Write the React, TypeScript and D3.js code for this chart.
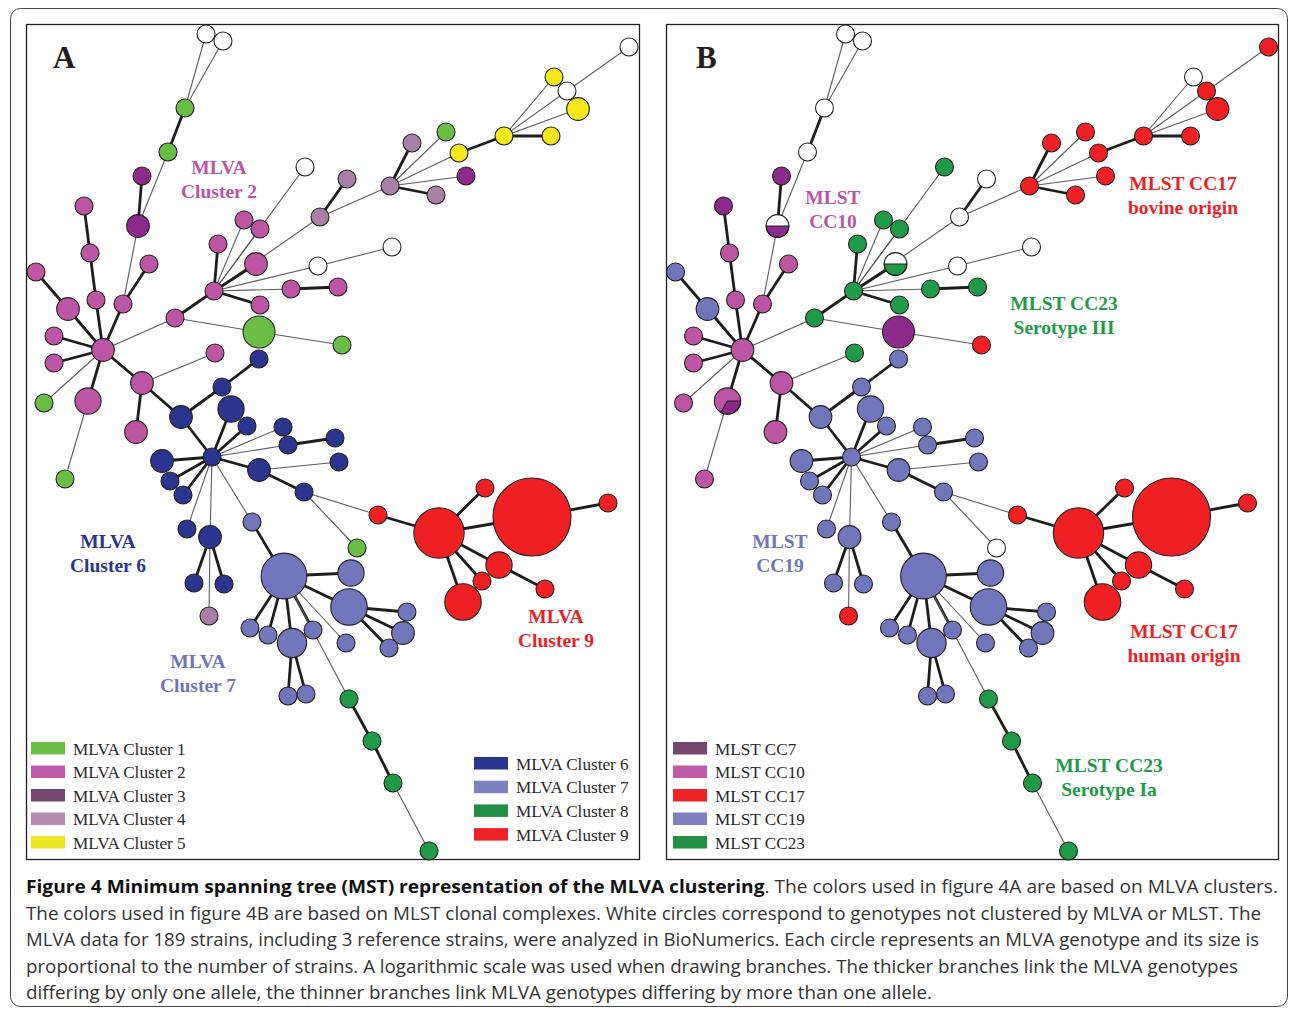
import React from "react";
import * as d3 from "d3";

// ---------- DATA ----------
// nodes: [id, x, y, strains, MLVA cluster (panel A), MLST complex (panel B)] ; x,y in tree layout units
const NODES: [number, number, number, number, string, string][] = [
  [1, 206, 34, 1, "none", "none"], [2, 223, 41, 1, "none", "none"],
  [3, 185, 108, 1, "c1", "none"], [4, 168, 152, 1, "c1", "none"],
  [5, 142, 176, 1, "c3", "cc7"], [6, 138, 226, 2, "c3", "cc7"],
  [7, 84, 206, 1, "c2", "cc7"], [8, 90, 253, 1, "c2", "cc10"],
  [9, 36, 272, 1, "c2", "cc19"], [10, 149, 264, 1, "c2", "cc10"],
  [11, 96, 300, 1, "c2", "cc10"], [12, 123, 304, 1, "c2", "cc10"],
  [13, 68, 309, 2, "c2", "cc19"], [14, 54, 336, 1, "c2", "cc10"],
  [15, 54, 363, 1, "c2", "cc10"], [16, 103, 350, 2, "c2", "cc10"],
  [17, 44, 403, 1, "c1", "cc10"], [18, 88, 401, 3, "c2", "cc10"],
  [19, 142, 383, 2, "c2", "cc10"], [20, 215, 353, 1, "c2", "cc23"],
  [21, 136, 432, 2, "c2", "cc10"], [22, 175, 318, 1, "c2", "cc23"],
  [23, 214, 291, 1, "c2", "cc23"], [24, 218, 244, 1, "c2", "cc23"],
  [25, 244, 220, 1, "c2", "cc23"], [26, 260, 229, 1, "c2", "cc23"],
  [27, 256, 264, 2, "c2", "cc23"], [28, 260, 305, 1, "c2", "cc23"],
  [29, 259, 332, 5, "c1", "cc7"], [30, 305, 167, 1, "none", "cc23"],
  [31, 320, 217, 1, "c4", "none"], [32, 318, 266, 1, "none", "none"],
  [33, 291, 289, 1, "c2", "cc23"], [34, 338, 287, 1, "c2", "cc23"],
  [35, 342, 345, 1, "c1", "cc17"], [36, 259, 359, 1, "c6", "cc19"],
  [37, 222, 387, 1, "c6", "cc19"], [38, 231, 409, 3, "c6", "cc19"],
  [39, 181, 417, 2, "c6", "cc19"], [40, 247, 426, 1, "c6", "cc19"],
  [41, 283, 427, 1, "c6", "cc19"], [42, 288, 445, 1, "c6", "cc19"],
  [43, 335, 438, 1, "c6", "cc19"], [44, 339, 462, 1, "c6", "cc19"],
  [45, 212, 457, 1, "c6", "cc19"], [46, 162, 461, 2, "c6", "cc19"],
  [47, 170, 481, 1, "c6", "cc19"], [48, 183, 495, 1, "c6", "cc19"],
  [49, 259, 470, 2, "c6", "cc19"], [50, 304, 492, 1, "c6", "cc19"],
  [51, 187, 529, 1, "c6", "cc19"], [52, 210, 537, 2, "c6", "cc19"],
  [53, 194, 583, 1, "c6", "cc19"], [54, 224, 584, 1, "c6", "cc19"],
  [55, 209, 616, 1, "c4", "cc17"], [56, 252, 522, 1, "c7", "cc19"],
  [57, 284, 576, 12, "c7", "cc19"], [58, 250, 628, 1, "c7", "cc19"],
  [59, 268, 635, 1, "c7", "cc19"], [60, 292, 643, 4, "c7", "cc19"],
  [61, 313, 630, 1, "c7", "cc19"], [62, 288, 696, 1, "c7", "cc19"],
  [63, 306, 694, 1, "c7", "cc19"], [64, 351, 573, 3, "c7", "cc19"],
  [65, 349, 607, 7, "c7", "cc19"], [66, 407, 612, 1, "c7", "cc19"],
  [67, 403, 633, 2, "c7", "cc19"], [68, 389, 648, 1, "c7", "cc19"],
  [69, 346, 643, 1, "c7", "cc19"], [70, 378, 515, 1, "c9", "cc17"],
  [71, 357, 548, 1, "c1", "none"], [72, 439, 533, 15, "c9", "cc17"],
  [73, 485, 488, 1, "c9", "cc17"], [74, 532, 517, 40, "c9", "cc17"],
  [75, 608, 503, 1, "c9", "cc17"], [76, 499, 565, 3, "c9", "cc17"],
  [77, 482, 581, 1, "c9", "cc17"], [78, 463, 602, 7, "c9", "cc17"],
  [79, 545, 589, 1, "c9", "cc17"], [80, 349, 699, 1, "c8", "cc23"],
  [81, 372, 741, 1, "c8", "cc23"], [82, 393, 783, 1, "c8", "cc23"],
  [83, 429, 851, 1, "c8", "cc23"], [84, 629, 47, 1, "none", "cc17"],
  [85, 554, 77, 1, "c5", "none"], [86, 567, 91, 1, "none", "cc17"],
  [87, 578, 109, 2, "c5", "cc17"], [88, 504, 136, 1, "c5", "cc17"],
  [89, 551, 136, 1, "c5", "cc17"], [90, 459, 153, 1, "c5", "cc17"],
  [91, 446, 132, 1, "c1", "cc17"], [92, 412, 143, 1, "c4", "cc17"],
  [93, 390, 186, 1, "c4", "cc17"], [94, 466, 176, 1, "c3", "cc17"],
  [95, 436, 195, 1, "c4", "cc17"], [96, 347, 179, 1, "c4", "none"],
  [97, 392, 247, 1, "none", "none"], [98, 65, 479, 1, "c1", "cc10"],
];

// mixed genotypes in panel B: [id, second complex, share kind]
const MIXED_B: [number, string, string][] = [
  [6, "cc7", "half"],
  [27, "cc23", "half"],
  [18, "cc7", "third"],
];
const MIXED_B_BASE: Record<number, string> = { 6: "none", 27: "none", 18: "cc10" };

// edges: [from, to, singleLocusVariant (1 = thick)]
const EDGES: [number, number, number][] = [
  [3, 1, 0], [3, 2, 0], [3, 4, 1], [4, 6, 0], [5, 6, 1], [6, 12, 0],
  [16, 12, 1], [12, 10, 1], [16, 11, 1], [11, 8, 1], [8, 7, 1], [16, 13, 1],
  [13, 9, 1], [16, 14, 1], [16, 15, 1], [16, 17, 0], [16, 18, 1], [18, 98, 0],
  [16, 19, 1], [16, 22, 0], [19, 20, 0], [19, 21, 1], [19, 39, 1],
  [22, 23, 1], [22, 29, 0], [29, 35, 0],
  [23, 24, 1], [23, 25, 0], [23, 26, 0], [23, 30, 0], [23, 31, 0], [23, 27, 1],
  [23, 32, 0], [23, 33, 0], [23, 28, 1], [33, 34, 1], [31, 96, 1], [31, 93, 0],
  [32, 97, 0], [93, 92, 1], [93, 91, 0], [93, 90, 0], [93, 94, 0], [93, 95, 1],
  [90, 88, 1], [88, 85, 0], [88, 86, 0], [88, 87, 0], [88, 89, 1], [86, 84, 0],
  [39, 37, 1], [37, 36, 1], [39, 45, 1],
  [45, 38, 1], [45, 40, 1], [45, 41, 0], [45, 42, 0], [42, 43, 1], [45, 46, 1],
  [45, 47, 1], [45, 48, 1], [45, 49, 1], [49, 44, 0], [49, 50, 1], [50, 70, 0],
  [50, 71, 0], [45, 51, 0], [45, 52, 0], [52, 53, 1], [52, 54, 1], [52, 55, 0],
  [45, 56, 0], [56, 57, 1],
  [57, 64, 1], [57, 65, 1], [57, 58, 1], [57, 59, 1], [57, 60, 1], [57, 61, 1],
  [57, 69, 0], [57, 80, 0], [60, 62, 1], [60, 63, 1], [65, 66, 1], [65, 67, 1],
  [65, 68, 1], [80, 81, 1], [81, 82, 1], [82, 83, 0],
  [70, 72, 1], [72, 73, 1], [72, 74, 1], [74, 75, 1], [72, 76, 1], [76, 79, 1],
  [72, 77, 1], [72, 78, 1],
];

const LEGEND_A_LEFT = ["MLVA Cluster 1", "MLVA Cluster 2", "MLVA Cluster 3", "MLVA Cluster 4", "MLVA Cluster 5"];
const LEGEND_A_LEFT_KEYS = ["c1", "c2", "c3", "c4", "c5"];
const LEGEND_A_RIGHT = ["MLVA Cluster 6", "MLVA Cluster 7", "MLVA Cluster 8", "MLVA Cluster 9"];
const LEGEND_A_RIGHT_KEYS = ["c6", "c7", "c8", "c9"];
const LEGEND_B = ["MLST CC7", "MLST CC10", "MLST CC17", "MLST CC19", "MLST CC23"];
const LEGEND_B_KEYS = ["cc7", "cc10", "cc17", "cc19", "cc23"];

const LABELS_A: [string[], string][] = [
  [["MLVA", "Cluster 2"], "c2"],
  [["MLVA", "Cluster 6"], "c6"],
  [["MLVA", "Cluster 7"], "c7"],
  [["MLVA", "Cluster 9"], "c9"],
];
const LABELS_B: [string[], string][] = [
  [["MLST", "CC10"], "cc10"],
  [["MLST CC17", "bovine origin"], "cc17"],
  [["MLST CC23", "Serotype III"], "cc23"],
  [["MLST", "CC19"], "cc19"],
  [["MLST CC17", "human origin"], "cc17"],
  [["MLST CC23", "Serotype Ia"], "cc23"],
];

const CAPTION_BOLD = "Figure 4 Minimum spanning tree (MST) representation of the MLVA clustering";
const CAPTION_LINES = [
  ". The colors used in figure 4A are based on MLVA clusters.",
  "The colors used in figure 4B are based on MLST clonal complexes. White circles correspond to genotypes not clustered by MLVA or MLST. The",
  "MLVA data for 189 strains, including 3 reference strains, were analyzed in BioNumerics. Each circle represents an MLVA genotype and its size is",
  "proportional to the number of strains. A logarithmic scale was used when drawing branches. The thicker branches link the MLVA genotypes",
  "differing by only one allele, the thinner branches link MLVA genotypes differing by more than one allele.",
];

// ---------- STYLE / LAYOUT ----------
const NODE_FILL: Record<string, string> = {
  none: "#ffffff",
  c1: "#6abd45", c2: "#bc55a3", c3: "#8b2a8a", c4: "#a680a5", c5: "#f2e81b",
  c6: "#2b3590", c7: "#7076b9", c8: "#1e9a48", c9: "#ee2024",
  cc7: "#8b2a8a", cc10: "#bc55a3", cc17: "#ee2024", cc19: "#7076b9", cc23: "#1e9a48",
};
const SWATCH_FILL: Record<string, string> = {
  c1: "#6cbe45", c2: "#be5aa8", c3: "#77466f", c4: "#b58bb3", c5: "#ede626",
  c6: "#2a3590", c7: "#7f80c0", c8: "#238e45", c9: "#ee2124",
  cc7: "#77466f", cc10: "#be5aa8", cc17: "#ee2124", cc19: "#7f80c0", cc23: "#238e45",
};
const LABEL_FILL: Record<string, string> = {
  c2: "#bc55a3", c6: "#2b3590", c7: "#7076b9", c9: "#ee2024",
  cc10: "#bc55a3", cc17: "#ee2024", cc19: "#7076b9", cc23: "#1e9a48",
};
const LABEL_POS_A = [[219, 174], [108, 548], [198, 668], [556, 623]];
const LABEL_POS_B = [[833, 204], [1183, 190], [1064, 310], [780, 548], [1184, 638], [1109, 772]];

const SERIF = "'Liberation Serif', 'Times New Roman', serif";
const SANS = "'Open Sans', 'Noto Sans', sans-serif";

const yScale = d3.scaleLinear().domain([24, 860]).range([24, 860]);
const xScaleA = d3.scaleLinear().domain([26, 640]).range([26, 640]);
const xScaleB = d3.scaleLinear().domain([26, 640]).range([665.5, 1279.5]);
const rScale = d3.scalePow().exponent(0.5).domain([1, 40]).range([9, 39]);
const arcGen = d3.arc();

const nodeById = new Map(NODES.map((n) => [n[0], n]));

function Tree({ panel }: { panel: "A" | "B" }) {
  const x = panel === "A" ? xScaleA : xScaleB;
  const mixed = new Map(MIXED_B.map((m) => [m[0], m]));
  return (
    <g>
      {EDGES.map(([s, t, thick], i) => {
        const a = nodeById.get(s)!;
        const b = nodeById.get(t)!;
        return (
          <line
            key={i}
            x1={x(a[1])} y1={yScale(a[2])} x2={x(b[1])} y2={yScale(b[2])}
            stroke={thick ? "#1d1d1b" : "#5c5c5c"}
            strokeWidth={thick ? 2.8 : 1.1}
          />
        );
      })}
      {NODES.map(([id, nx, ny, n, ca, cb]) => {
        const cx = x(nx);
        const cy = yScale(ny);
        const r = rScale(n);
        const m = panel === "B" ? mixed.get(id) : undefined;
        if (m) {
          const base = MIXED_B_BASE[id];
          const [sa, ea] = m[2] === "half" ? [Math.PI / 2, (3 * Math.PI) / 2] : [Math.PI / 2, (7 * Math.PI) / 6];
          const path = arcGen({ innerRadius: 0, outerRadius: r, startAngle: sa, endAngle: ea } as any) as string;
          return (
            <g key={id} transform={`translate(${cx},${cy})`}>
              <circle r={r} fill={NODE_FILL[base]} />
              <path d={path} fill={NODE_FILL[m[1]]} stroke="#231f20" strokeWidth={1.1} />
              <circle r={r} fill="none" stroke="#231f20" strokeWidth={1.1} />
            </g>
          );
        }
        return (
          <circle key={id} cx={cx} cy={cy} r={r}
            fill={NODE_FILL[panel === "A" ? ca : cb]} stroke="#231f20" strokeWidth={1.1} />
        );
      })}
    </g>
  );
}

function Legend({ items, keys, x0, y0, step }: { items: string[]; keys: string[]; x0: number; y0: number; step: number }) {
  return (
    <g>
      {items.map((t, i) => (
        <g key={t}>
          <rect x={x0} y={y0 + i * step} width={34} height={12.5} fill={SWATCH_FILL[keys[i]]} />
          <text x={x0 + 42} y={y0 + i * step + 12.5} fontFamily={SERIF} fontSize={17.2} fill="#2a2a2a">{t}</text>
        </g>
      ))}
    </g>
  );
}

function Labels({ labels, pos }: { labels: [string[], string][]; pos: number[][] }) {
  return (
    <g>
      {labels.map(([lines, key], i) => (
        <text key={i} x={pos[i][0]} y={pos[i][1]} textAnchor="middle" fontFamily={SERIF}
          fontWeight="bold" fontSize={19.5} fill={LABEL_FILL[key]}>
          {lines.map((l, j) => (
            <tspan key={j} x={pos[i][0]} dy={j === 0 ? 0 : 24}>{l}</tspan>
          ))}
        </text>
      ))}
    </g>
  );
}

const CAPTION_WIDTHS = [1252, 1235, 1233, 1212, 906];
const CAPTION_BASE = [893, 919.5, 946, 972.5, 999];

export default function App() {
  return (
    <svg width={1290} height={1011} style={{ position: "absolute", left: 0, top: 0, background: "#fff" }}>
      <rect x={0} y={0} width={1290} height={1011} fill="#fff" />
      <rect x={10.5} y={8.5} width={1277} height={998} rx={10} fill="none" stroke="#444" strokeWidth={1} />
      <rect x={26.5} y={24.5} width={613} height={835} fill="#fff" stroke="#231f20" strokeWidth={1.3} />
      <rect x={666.5} y={24.5} width={612} height={835} fill="#fff" stroke="#231f20" strokeWidth={1.3} />

      <Tree panel="A" />
      <Tree panel="B" />

      <text x={53} y={68} fontFamily={SERIF} fontWeight="bold" fontSize={31} fill="#231f20">A</text>
      <text x={696} y={68} fontFamily={SERIF} fontWeight="bold" fontSize={31} fill="#231f20">B</text>

      <Labels labels={LABELS_A} pos={LABEL_POS_A} />
      <Labels labels={LABELS_B} pos={LABEL_POS_B} />

      <Legend items={LEGEND_A_LEFT} keys={LEGEND_A_LEFT_KEYS} x0={31} y0={742} step={23.5} />
      <Legend items={LEGEND_A_RIGHT} keys={LEGEND_A_RIGHT_KEYS} x0={474} y0={757} step={23.7} />
      <Legend items={LEGEND_B} keys={LEGEND_B_KEYS} x0={673} y0={742} step={23.5} />

      {CAPTION_LINES.map((line, i) => (
        <text key={i} x={26} y={CAPTION_BASE[i]} fontFamily={SANS} fontSize={18} fill="#333333"
          textLength={CAPTION_WIDTHS[i]} lengthAdjust="spacingAndGlyphs">
          {i === 0 ? <tspan fontWeight="bold" fill="#111111">{CAPTION_BOLD}</tspan> : null}
          {line}
        </text>
      ))}
    </svg>
  );
}
